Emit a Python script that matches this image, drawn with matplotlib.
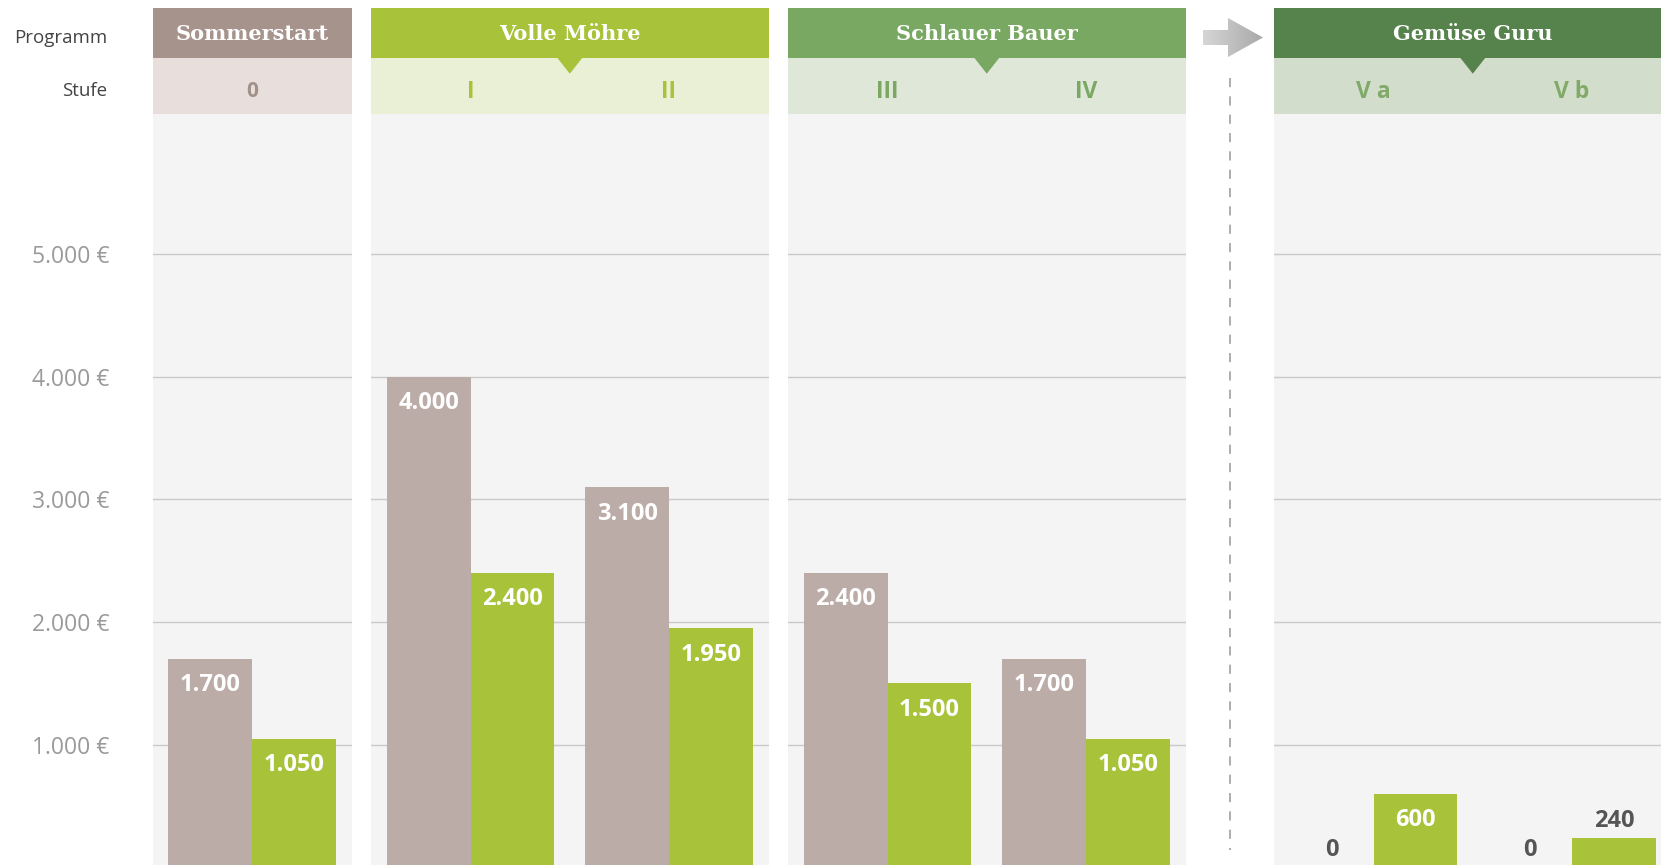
import numpy as np
import matplotlib.pyplot as plt
from matplotlib.patches import Rectangle, Polygon
from matplotlib.colors import LinearSegmentedColormap

plt.rcParams['font.family'] = ['Open Sans', 'DejaVu Sans']

# data
programs = ['Sommerstart', 'Volle Möhre', 'Schlauer Bauer', 'Gemüse Guru']
stages = [['0'], ['I', 'II'], ['III', 'IV'], ['V a', 'V b']]
gray_values = [[1700], [4000, 3100], [2400, 1700], [0, 0]]
green_values = [[1050], [2400, 1950], [1500, 1050], [600, 240]]
y_ticks = [1000, 2000, 3000, 4000, 5000]

# colours
head_colors = ['#a6938c', '#a8c23a', '#79a862', '#56824c']
band_colors = ['#e8dfdd', '#e9f0d6', '#dfe8d8', '#d3ddcb']
stage_colors = ['#a39089', '#a8c23a', '#7aa862', '#80aa68']
bar_gray = '#bbaca8'
bar_green = '#a8c23a'


def de_num(v):
    return f'{v:,}'.replace(',', '.')


# layout (pixels)
W, H = 1661, 865
panel_left = [152.5, 371, 788, 1274]
bar_px = 83.7
pad = 0.19
gap = 0.37
head_top, head_bot, band_bot = 8, 57.7, 113.7
zero_px = 867.5
px_per_1000 = 122.7
y_top = (zero_px - band_bot) / px_per_1000 * 1000

fig = plt.figure(figsize=(W / 100, H / 100), dpi=100)

bg = fig.add_axes([0, 0, 1, 1], zorder=0)
bg.set_xlim(0, W)
bg.set_ylim(H, 0)
bg.axis('off')

# row labels
bg.text(107, 38, 'Programm', ha='right', va='center', fontsize=13.5, color='#444444')
bg.text(107, 91, 'Stufe', ha='right', va='center', fontsize=13.5, color='#444444')

for i, prog in enumerate(programs):
    n = len(stages[i])
    units = 2 * pad + 2 * n + gap * (n - 1)
    left = panel_left[i]
    width_px = units * bar_px

    ax = fig.add_axes([left / W, (H - zero_px) / H, width_px / W, (zero_px - band_bot) / H], zorder=1)
    ax.set_facecolor('#f4f4f4')
    ax.set_xlim(0, units)
    ax.set_ylim(0, y_top)
    ax.set_yticks(y_ticks)
    ax.grid(axis='y', color='#c9c9c9', lw=1)
    ax.set_axisbelow(True)
    ax.set_xticks([])
    for s in ax.spines.values():
        s.set_visible(False)
    if i == 0:
        ax.set_yticklabels([de_num(v) + ' €' for v in y_ticks])
        ax.tick_params(axis='y', length=0, pad=31, labelcolor='#9a9a9a', labelsize=16.5)
    else:
        ax.set_yticklabels([])
        ax.tick_params(axis='y', length=0)

    for g in range(n):
        x0 = pad + g * (2 + gap)
        for k, (vals, col) in enumerate([(gray_values, bar_gray), (green_values, bar_green)]):
            v = vals[i][g]
            xc = x0 + k + 0.5
            ax.bar(xc, v, width=1.0, color=col, linewidth=0)
            if v >= 400:
                ax.annotate(de_num(v), (xc, v), xytext=(0, -19), textcoords='offset points',
                            ha='center', va='center', color='white', fontsize=17, fontweight='bold')
            else:
                ax.annotate(de_num(v), (xc, v), xytext=(0, 12.5), textcoords='offset points',
                            ha='center', va='center', color='#555555', fontsize=17, fontweight='bold')

        # stage label
        gx = left + (x0 + 1) * bar_px
        lab = stages[i][g]
        bg.text(gx, 91.5, lab, ha='center', va='center', color=stage_colors[i],
                fontsize=15 if lab.isdigit() else 16.5, fontweight='bold')

    # header + band
    bg.add_patch(Rectangle((left, head_top), width_px, head_bot - head_top, color=head_colors[i], lw=0))
    bg.add_patch(Rectangle((left, head_bot), width_px, band_bot - head_bot, color=band_colors[i], lw=0))
    cx = left + width_px / 2
    if n > 1:
        bg.add_patch(Polygon([(cx - 13, head_bot - 0.5), (cx + 13, head_bot - 0.5), (cx, head_bot + 16)],
                             color=head_colors[i], lw=0))
    bg.text(cx, 34, prog, ha='center', va='center', color='white',
            family='DejaVu Serif', fontweight='bold', fontsize=15)

# arrow with a soft gray gradient
arrow = Polygon([(1203, 30), (1228, 30), (1228, 18), (1263, 37.5), (1228, 57), (1228, 45), (1203, 45)],
                closed=True, facecolor='none', edgecolor='none')
bg.add_patch(arrow)
cmap = LinearSegmentedColormap.from_list('arr', ['#d6d6d6', '#a9a9a9'])
img = bg.imshow(np.linspace(0, 1, 64)[None, :], extent=(1203, 1263, 57, 18), cmap=cmap, aspect='auto')
img.set_clip_path(arrow)
bg.set_xlim(0, W)
bg.set_ylim(H, 0)

# dashed separator
bg.plot([1230, 1230], [78, 850], color='#a0a0a0', lw=1.2, linestyle=(0, (5.5, 5.5)))

fig.savefig('out.png', dpi=100)
